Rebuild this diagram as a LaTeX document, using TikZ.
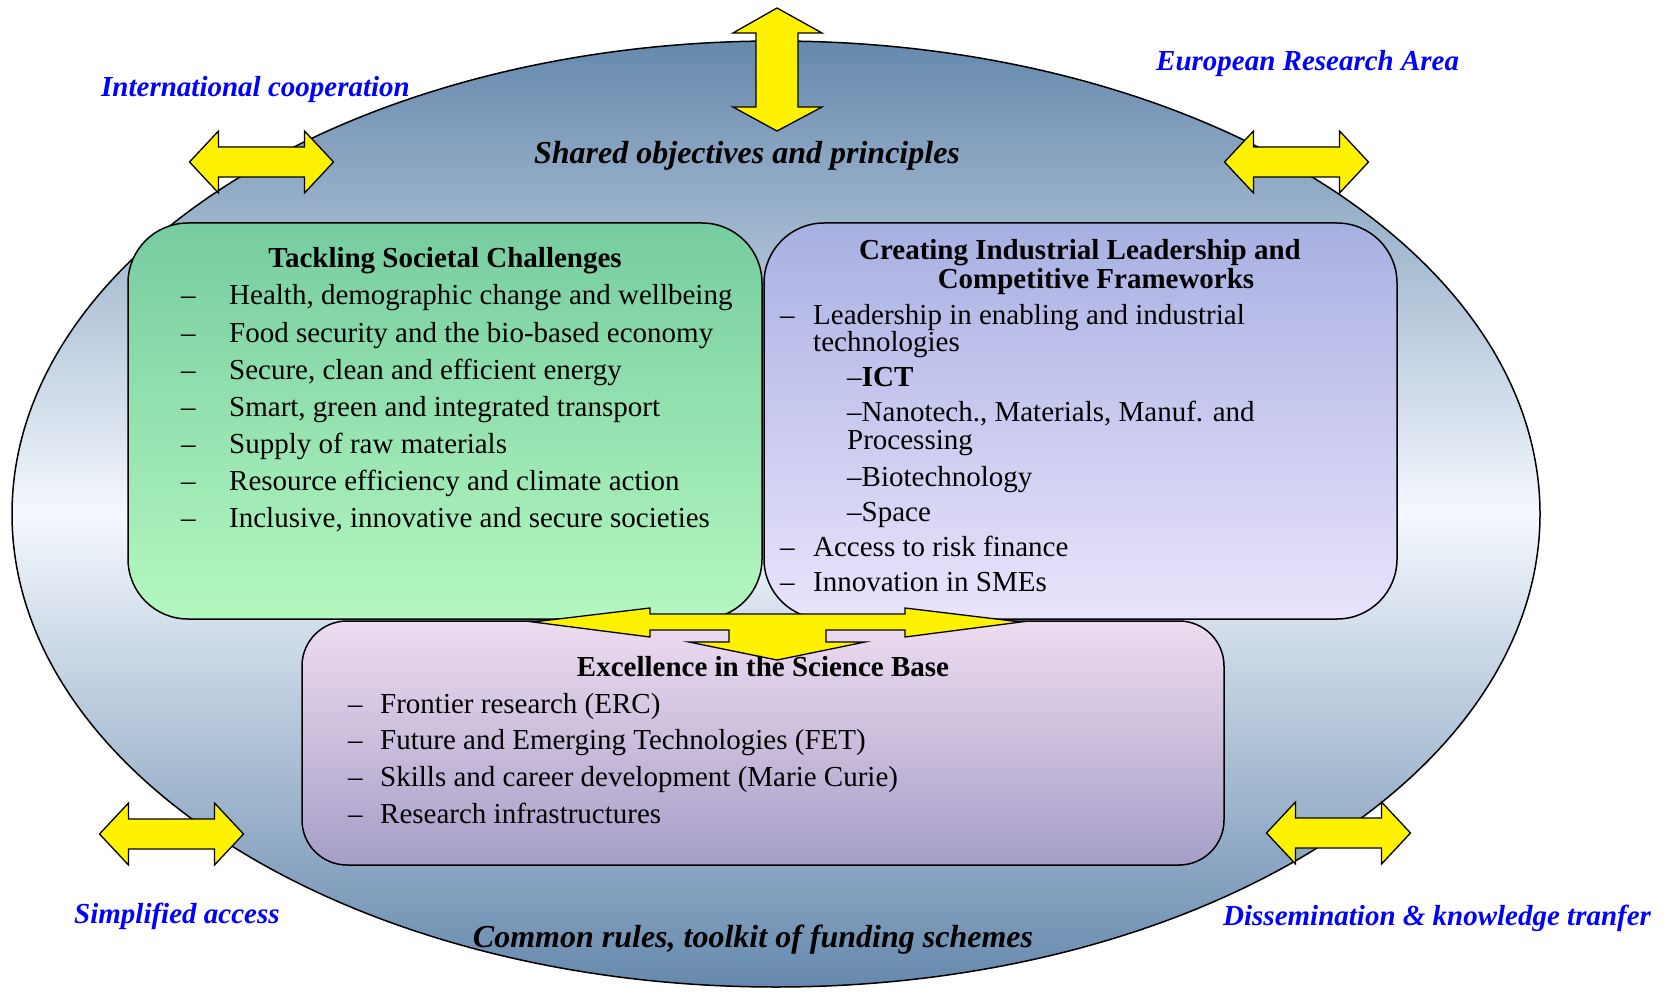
\documentclass[tikz,border=0pt]{standalone}
\usepackage{fontspec}
\setmainfont{Liberation Serif}
\usetikzlibrary{shapes.geometric}

\definecolor{ellblue}{RGB}{102,137,173}
\definecolor{ellwhite}{RGB}{244,248,254}
\definecolor{greentop}{RGB}{118,204,160}
\definecolor{greenbot}{RGB}{180,248,192}
\definecolor{violettop}{RGB}{168,176,226}
\definecolor{violetbot}{RGB}{234,228,252}
\definecolor{pinktop}{RGB}{238,220,240}
\definecolor{pinkbot}{RGB}{166,158,200}
\definecolor{labelblue}{RGB}{0,0,255}

\newcommand{\bodysize}{\fontsize{29pt}{37pt}\selectfont}
\newcommand{\itemdash}[1]{\makebox[#1][l]{–}}
\newcommand{\sidearrow}[1]{\draw[yarrow] (#1) ++(-72,0) -- ++(29,-31) -- ++(0,16) -- ++(86,0) -- ++(0,-16) -- ++(29,31) -- ++(-29,31) -- ++(0,-16) -- ++(-86,0) -- ++(0,16) -- cycle;}

\tikzset{
  box/.style={draw, line width=1.5pt, rounded corners=60pt, inner sep=0pt},
  txt/.style={anchor=base west, inner sep=0pt, font=\bodysize},
  head/.style={anchor=base, inner sep=0pt, font=\bodysize\bfseries},
  theme/.style={anchor=base, inner sep=0pt, font=\fontsize{32pt}{38pt}\selectfont\bfseries\itshape},
  side/.style={anchor=base west, inner sep=0pt, text=labelblue, font=\fontsize{29pt}{35pt}\selectfont\bfseries\itshape},
  yarrow/.style={draw, fill=yellow, line width=1.3pt}
}

\begin{document}
\begin{tikzpicture}[x=1pt, y=-1pt]

        \useasboundingbox (0,0) rectangle (1671,995);

        % ellipse
        \node[draw, ellipse, line width=1.5pt, inner sep=0pt, minimum width=1528pt, minimum height=946pt,
              top color=ellblue, bottom color=ellblue, middle color=ellwhite] (area) at (776,514) {};

        % boxes
        \node[box, minimum width=634pt, minimum height=396pt, top color=greentop, bottom color=greenbot] (societal) at (445,421) {};
        \node[box, minimum width=633pt, minimum height=396pt, top color=violettop, bottom color=violetbot] (industrial) at (1080.5,421) {};
        \node[box, rounded corners=45pt, minimum width=922pt, minimum height=244pt, top color=pinktop, bottom color=pinkbot] (science) at (763,743) {};

        % arrow between the boxes
        \draw[yarrow] (533,622) -- (650,608) -- (650,614) -- (905,614) -- (905,608) -- (1021,622) -- (905,637) -- (905,630)
              -- (826,630) -- (826,642) -- (865,642) -- (777,660) -- (689,642) -- (729,642) -- (729,630)
              -- (650,630) -- (650,637) -- cycle;

        % arrow at the top
        \draw[yarrow] (777,8) -- (822,33) -- (798,33) -- (798,107) -- (822,107) -- (777,131) -- (733,107)
              -- (756,107) -- (756,33) -- (733,33) -- cycle;

        % arrows on the rim
        \coordinate (intl) at (261.5,162);
        \coordinate (era) at (1296.5,162);
        \coordinate (simple) at (171.5,834);
        \coordinate (dissem) at (1338.5,833);
        \sidearrow{intl}
        \sidearrow{era}
        \sidearrow{simple}
        \sidearrow{dissem}

        % rim labels
        \node[theme] (shared) at (747,164) {Shared objectives and principles};
        \node[theme] (rules) at (753,947) {Common rules, toolkit of funding schemes};
        \node[side] (intllabel) at (101,97) {International cooperation};
        \node[side] (eralabel) at (1156,71) {European Research Area};
        \node[side] (simplelabel) at (74,923) {Simplified access};
        \node[side] (dissemlabel) at (1223,925) {Dissemination \& knowledge tranfer};

        % societal challenges
        \node[head] (societaltitle) at (445,267) {Tackling Societal Challenges};
        \node[txt] (health) at (181,305) {\itemdash{48pt}Health, demographic change and wellbeing};
        \node[txt] (food) at (181,342) {\itemdash{48pt}Food security and the bio-based economy};
        \node[txt] (energy) at (181,379) {\itemdash{48pt}Secure, clean and efficient energy};
        \node[txt] (transport) at (181,416) {\itemdash{48pt}Smart, green and integrated transport};
        \node[txt] (raw) at (181,453) {\itemdash{48pt}Supply of raw materials};
        \node[txt] (climate) at (181,490) {\itemdash{48pt}Resource efficiency and climate action};
        \node[txt] (societies) at (181,527) {\itemdash{48pt}Inclusive, innovative and secure societies};

        % industrial leadership
        \node[head] (industrialtitle) at (1080,260) {Creating Industrial Leadership and};
        \node[head] (industrialtitleb) at (1096,288) {Competitive Frameworks};
        \node[txt] (leadership) at (780,324) {\itemdash{33pt}Leadership in enabling and industrial};
        \node[txt] (leadershipb) at (813,351) {technologies};
        \node[txt] (ict) at (847,386) {–\textbf{ICT}};
        \node[txt] (nano) at (847,421) {–Nanotech., Materials, Manuf. and};
        \node[txt] (nanob) at (847,449) {Processing};
        \node[txt] (bio) at (847,486) {–Biotechnology};
        \node[txt] (space) at (847,521) {–Space};
        \node[txt] (risk) at (780,556) {\itemdash{33pt}Access to risk finance};
        \node[txt] (sme) at (780,591) {\itemdash{33pt}Innovation in SMEs};

        % science base
        \node[head] (sciencetitle) at (763,676) {Excellence in the Science Base};
        \node[txt] (erc) at (348,713) {\itemdash{32pt}Frontier research (ERC)};
        \node[txt] (fet) at (348,749) {\itemdash{32pt}Future and Emerging Technologies (FET)};
        \node[txt] (skills) at (348,786) {\itemdash{32pt}Skills and career development (Marie Curie)};
        \node[txt] (infra) at (348,823) {\itemdash{32pt}Research infrastructures};

\end{tikzpicture}
\end{document}
